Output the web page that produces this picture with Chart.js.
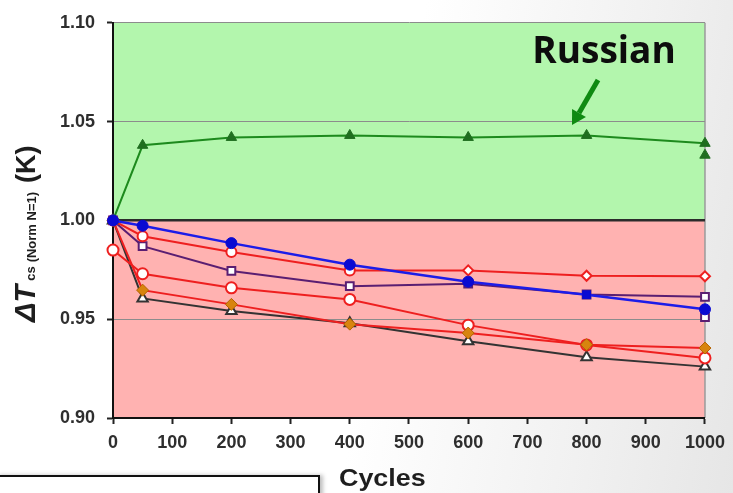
<!DOCTYPE html>
<html>
<head>
<meta charset="utf-8">
<script src="https://cdn.jsdelivr.net/npm/chart.js@4/dist/chart.umd.min.js"></script>
<style>
  html, body { margin: 0; padding: 0; }
  body {
    width: 733px; height: 493px; overflow: hidden; position: relative;
    background: linear-gradient(100deg, #ffffff 52%, #f1f1f1 80%, #e6e6e6 100%);
  }
  #wrap { position: absolute; left: 0; top: 0; width: 733px; height: 493px; }
  #note {
    position: absolute; left: -4px; top: 475px; width: 320px; height: 40px;
    border: 2px solid #111; background: #fff; box-shadow: 3px 0 4px rgba(0,0,0,0.25);
  }
</style>
</head>
<body>
<div id="wrap"><canvas id="c" width="733" height="493"></canvas></div>
<div id="note"></div>
<script>
// Thermal cycling: normalised delta T_cs against number of cycles
const cycles = [0, 50, 200, 400, 600, 800, 1000];

const russian      = [1.000, 1.038, 1.042, 1.043, 1.042, 1.043, 1.039];
const russianExtra = [1.033];               // second sample at 1000 cycles
const blueSeries   = [1.000, 0.9973, 0.9885, 0.9776, 0.969, 0.9624, 0.955];
const redUpper     = [1.000, 0.992, 0.984, 0.9747, 0.9747, 0.972, 0.9717];
const purpleSeries = [1.000, 0.987, 0.9744, 0.9667, 0.968, 0.9625, 0.9613];
const purpleExtra  = [0.951];               // second sample at 1000 cycles
const redLower     = [0.985, 0.973, 0.9659, 0.960, 0.947, 0.937, 0.9304];
const orangeSeries = [1.000, 0.9647, 0.9575, 0.9475, 0.943, 0.9371, 0.9354];
const openTriangle = [1.000, 0.9605, 0.9542, 0.948, 0.9388, 0.9307, 0.926];

const yTicks = [0.90, 0.95, 1.00, 1.05, 1.10];
const xMax = 1000;

function pts(values, xs) {
  return values.map((v, i) => ({ x: xs[i], y: v }));
}

const TICK_FONT = { family: '"Liberation Sans", Arial, sans-serif', size: 18, weight: 'bold' };

// Coloured bands above / below 1.00 and the plot frame
const bands = {
  id: 'bands',
  beforeDraw(chart) {
    const { ctx, chartArea: a, scales: { y } } = chart;
    const yTop = y.getPixelForValue(1.10);
    const yMid = y.getPixelForValue(1.00);
    const yBot = y.getPixelForValue(0.90);
    ctx.save();
    ctx.fillStyle = '#b3f6ad';
    ctx.fillRect(a.left, yTop, a.right - a.left, yMid - yTop);
    ctx.fillStyle = '#ffb2b1';
    ctx.fillRect(a.left, yMid, a.right - a.left, yBot - yMid);
    ctx.strokeStyle = '#9a9a9a';
    ctx.lineWidth = 1.5;
    ctx.beginPath();
    ctx.moveTo(a.right, yTop);
    ctx.lineTo(a.right, yBot);
    ctx.stroke();
    ctx.restore();
  }
};

// Axis titles and the "Russian" callout
const labels = {
  id: 'labels',
  afterDraw(chart) {
    const { ctx } = chart;
    ctx.save();
    ctx.fillStyle = '#1e1e1e';

    // y-axis title, rotated
    ctx.save();
    ctx.translate(35, 322);
    ctx.rotate(-Math.PI / 2);
    ctx.textBaseline = 'alphabetic';
    ctx.textAlign = 'left';
    let x = 0;
    ctx.font = 'italic bold 29px "Liberation Sans", Arial, sans-serif';
    ctx.fillText('\u0394T', x, 0);
    x += ctx.measureText('\u0394T').width + 4;
    ctx.font = 'bold 13px "Liberation Sans", Arial, sans-serif';
    ctx.fillText('cs', x, 0);
    x += ctx.measureText('cs').width + 4;
    ctx.fillText('(Norm N=1)', x, 1);
    x += ctx.measureText('(Norm N=1)').width + 9;
    ctx.font = 'bold 27px "Liberation Sans", Arial, sans-serif';
    ctx.fillText('(K)', x, 0);
    ctx.restore();

    // x-axis title
    ctx.save();
    ctx.translate(339, 486);
    ctx.scale(1.12, 1);
    ctx.font = 'bold 24px "Liberation Sans", Arial, sans-serif';
    ctx.textAlign = 'left';
    ctx.textBaseline = 'alphabetic';
    ctx.fillText('Cycles', 0, 0);
    ctx.restore();

    // callout
    ctx.fillStyle = '#0d0d0d';
    ctx.font = 'bold 37px "Open Sans", sans-serif';
    ctx.textAlign = 'center';
    ctx.textBaseline = 'alphabetic';
    ctx.fillText('Russian', 604, 63);

    const x0 = 598, y0 = 80, x1 = 572, y1 = 125;
    const ang = Math.atan2(y1 - y0, x1 - x0);
    const headLen = 14, headW = 8;
    const bx = x1 - headLen * Math.cos(ang), by = y1 - headLen * Math.sin(ang);
    ctx.strokeStyle = '#0f8a12';
    ctx.fillStyle = '#0f8a12';
    ctx.lineWidth = 5;
    ctx.beginPath();
    ctx.moveTo(x0, y0);
    ctx.lineTo(bx, by);
    ctx.stroke();
    ctx.beginPath();
    ctx.moveTo(x1, y1);
    ctx.lineTo(bx + headW * Math.sin(ang), by - headW * Math.cos(ang));
    ctx.lineTo(bx - headW * Math.sin(ang), by + headW * Math.cos(ang));
    ctx.closePath();
    ctx.fill();
    ctx.restore();
  }
};

// Lower "order" is painted later, i.e. on top
const RED = '#ee1f1f';
const datasets = [
  {
    label: 'Russian', data: pts(russian, cycles), order: 3,
    borderColor: '#1d8a1d', backgroundColor: '#1f6e1f', pointBorderColor: '#1f6e1f',
    pointStyle: 'triangle', pointRadius: 6, borderWidth: 2, pointBorderWidth: 1
  },
  {
    label: 'Russian 2', data: pts(russianExtra, [1000]), showLine: false, order: 3,
    backgroundColor: '#1f6e1f', pointBorderColor: '#1f6e1f',
    pointStyle: 'triangle', pointRadius: 6, pointBorderWidth: 1
  },
  {
    label: 'Blue', data: pts(blueSeries, cycles), order: 1,
    borderColor: '#1c1ce8', backgroundColor: '#0a0ad2', pointBorderColor: '#0a0ad2',
    pointStyle: ['circle', 'circle', 'circle', 'circle', 'circle', 'rect', 'circle'],
    pointRadius: 5.5, borderWidth: 2.5, pointBorderWidth: 1
  },
  {
    label: 'Red upper', data: pts(redUpper, cycles), order: 5,
    borderColor: RED, backgroundColor: '#ffffff', pointBorderColor: RED,
    pointStyle: ['circle', 'circle', 'circle', 'circle', 'rectRot', 'rectRot', 'rectRot'],
    pointRadius: 5, borderWidth: 2, pointBorderWidth: 2
  },
  {
    label: 'Purple', data: pts(purpleSeries, cycles), order: 6,
    borderColor: '#5a1e72', backgroundColor: '#ffffff', pointBorderColor: '#5a1e72',
    pointStyle: 'rect', pointRadius: 5.5, borderWidth: 2, pointBorderWidth: 2
  },
  {
    label: 'Purple 2', data: pts(purpleExtra, [1000]), showLine: false, order: 6,
    backgroundColor: '#ffffff', pointBorderColor: '#5a1e72',
    pointStyle: 'rect', pointRadius: 5.5, pointBorderWidth: 2
  },
  {
    label: 'Red lower', data: pts(redLower, cycles), order: 8,
    borderColor: RED, backgroundColor: '#ffffff', pointBorderColor: RED,
    pointStyle: 'circle', pointRadius: 5.5, borderWidth: 2, pointBorderWidth: 2
  },
  {
    label: 'Orange', data: pts(orangeSeries, cycles), order: 7,
    borderColor: RED, backgroundColor: '#d8840e', pointBorderColor: '#b36200',
    pointStyle: 'rectRot', pointRadius: 6, borderWidth: 2, pointBorderWidth: 1
  },
  {
    label: 'Open triangle', data: pts(openTriangle, cycles), order: 10,
    borderColor: '#333333', backgroundColor: '#ffffff', pointBorderColor: '#333333',
    pointStyle: 'triangle', pointRadius: 6, borderWidth: 2, pointBorderWidth: 2
  }
];
datasets.forEach(d => {
  d.clip = false;
  d.pointHoverRadius = d.pointRadius;
});

new Chart(document.getElementById('c'), {
  type: 'line',
  data: { datasets },
  options: {
    responsive: false,
    animation: false,
    events: [],
    layout: { padding: { left: 0, right: 25, top: 20, bottom: 0 } },
    plugins: { legend: { display: false }, tooltip: { enabled: false } },
    scales: {
      x: {
        type: 'linear', min: 0, max: xMax,
        afterFit(s) { s.height = 75; },
        border: { display: true, color: '#111', width: 2 },
        grid: { drawOnChartArea: false, drawTicks: true, tickLength: 6, tickColor: '#222', tickWidth: 2 },
        ticks: {
          stepSize: 100, font: TICK_FONT, color: '#2e2e2e', padding: 8, maxRotation: 0,
          callback: v => String(v)
        }
      },
      y: {
        type: 'linear', min: yTicks[0], max: yTicks[yTicks.length - 1],
        afterFit(s) { s.width = 113; },
        afterBuildTicks(s) { s.ticks = yTicks.map(v => ({ value: v })); },
        border: { display: true, color: '#111', width: 2 },
        grid: {
          tickLength: 6, tickColor: '#222', tickWidth: 2,
          color(c) {
            const v = c.tick ? Math.round(c.tick.value * 100) / 100 : 0;
            if (v === 1.00) return '#2b2b2b';
            if (v === 0.90) return 'rgba(0,0,0,0)';
            return '#8c8c8c';
          },
          lineWidth(c) {
            const v = c.tick ? Math.round(c.tick.value * 100) / 100 : 0;
            return v === 1.00 ? 2.5 : 1;
          }
        },
        ticks: {
          font: TICK_FONT, color: '#2e2e2e', padding: 12,
          callback: v => Number(v).toFixed(2)
        }
      }
    }
  },
  plugins: [bands, labels]
});
</script>
</body>
</html>
